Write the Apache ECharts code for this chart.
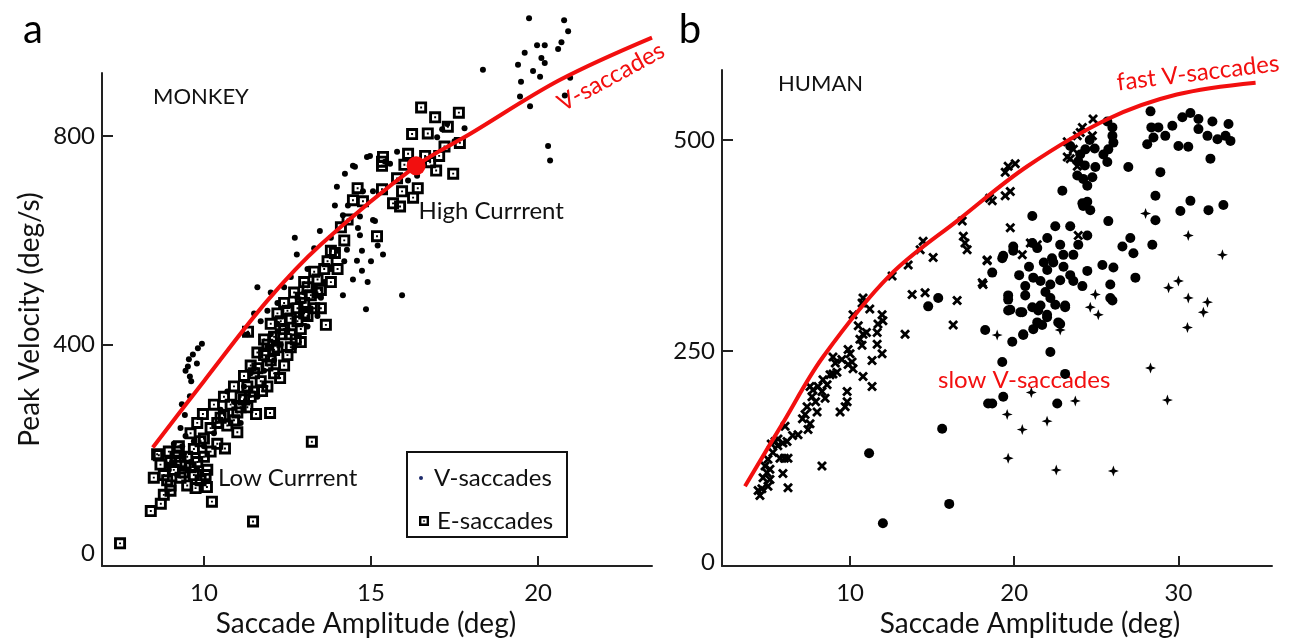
<!DOCTYPE html>
<html>
<head>
<meta charset="utf-8">
<script src="https://cdn.jsdelivr.net/npm/echarts@6/dist/echarts.min.js"></script>
<style>
  html, body { margin: 0; padding: 0; background: #fff; }
  #chart { width: 1294px; height: 643px; }
</style>
</head>
<body>
<div id="chart"></div>
<script>
// ---------- Panel a: MONKEY ----------
// Saccade amplitude (deg), peak velocity (deg/s)
const monkeyV = [
  [9.34,286],[9.58,301],[9.43,265],[9.52,358],[9.79,364],[9.58,339],[9.67,381],[9.82,393],[9.94,402],
  [9.45,350],[9.55,372],[9.62,330],[9.3,240],[9.45,225],[9.1,210],[9.05,175],[8.95,160],
  [8.9,170],[9.2,150],[9.4,190],[9.6,175],[9.8,160],[10.0,205],[9.7,215],[9.35,205],
  [10.3,230],[10.5,275],[10.7,310],[10.9,290],[11.1,250],[11.2,320],[11.4,345],[11.6,300],[11.8,350],
  [11.9,395],[12.0,420],[12.1,370],[12.2,440],[12.3,400],[12.4,455],[12.5,430],[12.6,475],[12.7,395],
  [12.8,490],[12.9,460],[13.0,500],[13.1,435],[13.2,470],[13.3,510],[13.4,455],[13.5,490],[12.2,480],
  [11.9,465],[12.0,500],[11.7,445],[12.4,510],[12.6,530],[13.1,545],[13.6,520],[13.8,545],[11.3,420],
  [11.5,460],[11.6,510],[12.72,605],[13.47,618],[12.78,573],[13.3,585],[13.8,605],[14.0,580],[14.2,560],
  [14.85,468],[15.93,495],[14.16,495],[14.46,525],[14.73,542],[14.58,561],[15.36,573],[14.67,610],
  [15.12,637],[14.16,648],[13.92,667],[13.98,703],[14.46,743],[14.88,760],[15.42,751],[15.57,747],
  [14.52,741],[14.22,728],[14.76,694],[15.06,694],[14.31,667],[15.06,639],[14.67,646],[14.73,580],
  [14.28,582],[14.61,624],[16.11,715],[16.38,724],[15.78,770],[14.97,762],[17.13,813],[17.28,823],
  [16.98,798],[15.2,590],[15.0,560],[14.9,520],[17.5,790],[17.8,815],
  [19.73,1026],[20.78,1022],[20.9,1001],[19.97,974],[20.2,974],[20.6,967],[20.1,950],[20.2,940],
  [19.4,937],[18.35,927],[19.85,925],[20.06,914],[20.96,912],[19.49,904],[19.46,876],[19.76,857],
  [20.8,878],[20.3,781],[20.36,753],[20.7,980],[19.6,960]
];
const monkeyE = [
  [8.6,190],[8.7,170],[8.8,150],[8.9,140],[9.0,175],[9.0,130],[9.1,160],[9.2,195],[9.3,145],[9.3,175],
  [9.4,155],[9.5,185],[9.5,130],[9.6,165],[9.7,200],[9.7,150],[9.8,175],[9.9,215],[9.9,140],[10.0,185],
  [10.1,160],[10.2,195],[8.41,81],[8.71,95],[10.24,99],[11.47,61],[7.49,19],[10.09,127],[9.0,120],
  [8.8,112],[8.65,188],[8.5,145],[9.15,185],[9.45,168],[9.75,125],[10.05,150],[8.95,195],[9.25,205],
  [9.6,230],[9.8,250],[9.97,267],[10.0,220],[10.2,240],[10.3,285],[10.4,210],[10.5,260],[10.6,300],
  [10.63,201],[10.7,245],[10.8,285],[10.9,320],[11.0,270],[11.0,232],[11.1,300],[11.2,340],[11.3,280],
  [11.32,425],[11.4,360],[11.5,310],[11.56,267],[11.6,385],[11.7,330],[11.74,311],[11.8,410],[11.9,360],
  [11.98,269],[12.0,440],[12.1,390],[12.2,460],[12.28,336],[12.3,420],[12.4,480],[12.5,380],[12.6,450],
  [12.75,410],[12.7,500],[12.8,470],[12.9,430],[13.0,520],[13.0,480],[13.1,455],[13.23,214],[13.3,540],
  [13.4,500],[13.5,470],[13.65,438],[13.7,560],[13.8,520],[13.92,576],[14.0,545],[14.2,600],[14.46,677],
  [14.76,675],[15.18,608],[15.33,698],[15.33,751],[15.66,671],[15.78,719],[15.87,665],[15.93,694],
  [16.11,766],[16.23,804],[16.26,682],[16.5,855],[16.62,762],[16.77,750],[16.92,836],[16.95,734],
  [17.04,762],[17.46,728],[17.63,845],[17.66,787],[15.36,760],[15.33,743],[16.4,700],[17.2,780],
  [10.4,250],[10.6,265],[10.9,255],[11.1,280],[11.2,295],[11.3,320],[11.4,300],[11.5,345],[11.6,355],
  [11.8,380],[11.9,400],[12.0,370],[12.1,415],[12.2,395],[12.3,445],[12.4,430],[12.5,465],[12.6,420],
  [12.8,445],[12.9,490],[13.0,460],[13.2,495],[13.3,470],[13.4,525],[13.5,505],[13.6,545],[12.1,345],
  [12.4,360],[11.9,320],[12.6,395],[12.9,405],[13.1,510],[13.8,580],[14.1,625],[14.3,640],[14.6,700],
  [16.0,745],[16.7,805],[17.3,818]
];
// fitted main-sequence curve for V-saccades
const monkeyFitX = [8.47, 10.0, 11.88, 13.5, 16.35, 17.96, 20.66, 23.41];
const monkeyFitY = [203, 330, 483, 592, 743, 804, 908, 989];
const highCurrent = [16.35, 743];

// ---------- Panel b: HUMAN ----------
const humanCross = [
  [4.51,79],[4.63,87],[5.0,90],[5.12,98],[4.94,106],[4.82,114],[5.0,122],[5.12,110],[6.22,88],[5.91,105],
  [5.73,123],[6.22,123],[6.0,123],[5.43,143],[5.61,146],[5.91,141],[6.16,143],[6.04,161],[8.29,114],
  [6.83,151],[7.44,157],[7.56,164],[7.26,175],[7.38,184],[7.68,196],[7.74,204],[8.05,208],[7.56,208],
  [8.29,202],[7.99,178],[8.48,194],[8.35,216],[8.78,222],[8.96,223],[9.2,225],[8.96,243],[9.39,178],
  [9.7,184],[9.82,190],[9.82,202],[9.88,252],[10.0,247],[10.12,237],[10.18,229],[9.88,234],[11.34,208],
  [10.79,220],[11.34,239],[10.73,257],[10.6,264],[11.65,258],[11.95,247],[11.65,272],[11.0,272],
  [10.79,270],[13.35,270],[16.83,404],[16.9,386],[17.0,378],[17.13,370],[14.45,380],[14.27,370],
  [15.06,361],[13.54,352],[12.56,339],[10.79,313],[10.73,307],[10.18,293],[11.95,293],[12.0,286],
  [11.7,282],[13.78,317],[14.57,319],[16.28,281],[16.52,310],[18.1,329],[18.35,357],[18.5,431],
  [24.8,525],[24.15,515],[24.76,505],[23.84,505],[23.23,480],[19.63,469],[20.06,472],[19.45,462],
  [19.76,439],[19.45,434],[18.66,428],[19.76,396],[18.35,358],[18.05,331],[20.49,364],[20.98,378],
  [21.4,376],[23.9,387],[23.23,498],[23.6,489],[23.84,469],[23.41,478],[24.02,509],[5.3,130],[5.2,140],
  [4.7,100],[6.5,150],[7.1,170],[7.9,190],[8.6,210],[9.5,240],[11.2,300],[10.5,280],[4.4,85],[5.6,138],
  [9.1,236]
];
const humanDot = [
  [28.3,534],[28.35,515],[28.78,515],[28.48,503],[29.2,505],[28.1,495],[29.63,517],[30.24,527],[30.73,532],
  [31.22,525],[32.07,522],[33.05,519],[31.22,513],[31.77,505],[32.38,501],[32.87,505],[33.17,499],[30.0,493],
  [30.6,492],[31.95,478],[26.95,468],[28.9,462],[28.6,434],[30.73,428],[30.12,416],[31.83,417],[32.74,423],
  [28.6,405],[28.41,376],[27.07,384],[26.59,374],[27.26,366],[27.38,337],[25.73,404],[22.93,440],[24.15,425],
  [24.63,417],[21.1,410],[22.5,398],[23.41,398],[24.45,387],[19.94,374],[19.33,363],[21.4,372],[22.01,384],
  [22.8,376],[23.9,376],[22.99,364],[23.6,364],[25.37,352],[26.04,349],[24.45,345],[23.41,340],[22.38,355],
  [22.01,346],[21.16,337],[21.6,333],[22.2,329],[22.8,334],[23.6,333],[24.15,327],[25.85,329],[25.85,313],
  [20.67,327],[20.67,316],[19.63,316],[19.76,299],[20.37,296],[21.1,302],[21.6,304],[22.2,313],[23.1,304],
  [21.4,284],[22.0,290],[18.23,275],[20.55,270],[22.8,282],[19.27,360],[18.66,343],[19.94,369],[21.1,378],
  [19.63,311],[19.63,298],[20.49,296],[21.46,298],[22.0,293],[23.1,302],[22.68,284],[21.7,281],[21.16,276],
  [20.55,269],[19.88,261],[25.98,310],[22.2,249],[19.27,237],[23.1,223],[19.33,196],[18.66,188],[22.62,188],
  [15.61,158],[11.16,129],[12.0,46],[16.04,69],[18.41,188],[15.37,313],[14.76,303],[25.67,522],[25.98,515],
  [25.98,505],[26.04,497],[25.73,489],[25.43,483],[24.94,468],[24.76,456],[24.45,446],[24.2,454],[23.84,458],
  [24.02,483],[24.33,489],[23.41,493],[24.45,427],[24.2,422],[25.67,474],[24.6,500],[24.9,490],[23.9,475],
  [24.3,470],[22.3,360],[21.8,355],[20.9,350],[20.3,340],[23.0,350],[21.9,320],[22.5,305]
];
const humanPlus = [
  [28.0,413],[30.6,387],[32.68,364],[24.94,317],[24.63,302],[25.12,293],[29.4,325],[30.0,333],[30.6,313],
  [31.77,308],[31.52,296],[30.55,278],[22.8,275],[18.96,269],[28.3,230],[29.33,192],[23.72,191],[21.04,201],
  [19.57,175],[20.49,157],[22.0,167],[19.63,123],[22.56,109],[26.04,108]
];
const humanFitX = [3.6, 5.85, 8.35, 12.44, 16.7, 20.8, 25.7, 29.9, 34.7];
const humanFitY = [90, 163, 243, 340, 407, 469, 525, 554, 568];

// tick values
const ticksAX = [10, 15, 20];
const ticksAY = [0, 400, 800];
const ticksBX = [10, 20, 30];
const ticksBY = [0, 250, 500];

const zip = (xs, ys) => xs.map((x, i) => [x, ys[i]]);

const FONT = 'Lato';
const INK = '#111';
const RED = '#f20f0f';

// marker shapes: framed square with centre dot, bold x, four-point cross
const SQUARE = 'path://M0,0L10,0L10,10L0,10Z M2.4,2.4L2.4,7.6L7.6,7.6L7.6,2.4Z M4.2,4.2L5.8,4.2L5.8,5.8L4.2,5.8Z';
const CROSS = 'path://M2,0L5,3L8,0L10,2L7,5L10,8L8,10L5,7L2,10L0,8L3,5L0,2Z';
const PLUS = 'path://M5,0L6.3,3.7L10,5L6.3,6.3L5,10L3.7,6.3L0,5L3.7,3.7Z';

const tickLine = { color: '#222', width: 2 };
const labelBase = { color: INK, fontFamily: FONT, fontSize: 24 };

function axisStyle(extra) {
  return Object.assign({
    type: 'value',
    splitLine: { show: false },
    axisLine: { show: true, onZero: false, lineStyle: { color: '#222', width: 2 } },
    nameTextStyle: { color: INK, fontFamily: FONT, fontSize: 28 }
  }, extra);
}

const chart = echarts.init(document.getElementById('chart'), null, { renderer: 'canvas' });

chart.setOption({
  backgroundColor: '#fff',
  animation: false,
  grid: [
    { left: 102, top: 73, right: 642, bottom: 71 },
    { left: 722, top: 70, right: 22, bottom: 72 }
  ],
  xAxis: [
    axisStyle({
      gridIndex: 0, min: 6.95, max: 23.41,
      axisLabel: Object.assign({ margin: 15, customValues: ticksAX }, labelBase),
      axisTick: { show: true, inside: true, length: 10, lineStyle: tickLine, customValues: ticksAX },
      name: 'Saccade Amplitude (deg)', nameLocation: 'middle', nameGap: 40,
      nameTextStyle: { color: INK, fontFamily: FONT, fontSize: 28, padding: [0, 22, 0, 0] }
    }),
    axisStyle({
      gridIndex: 1, min: 2.2, max: 35.7,
      axisLabel: Object.assign({ margin: 15, customValues: ticksBX }, labelBase),
      axisTick: { show: true, inside: true, length: 10, lineStyle: tickLine, customValues: ticksBX },
      name: 'Saccade Amplitude (deg)', nameLocation: 'middle', nameGap: 40,
      nameTextStyle: { color: INK, fontFamily: FONT, fontSize: 28, padding: [0, 0, 0, 66] }
    })
  ],
  yAxis: [
    axisStyle({
      gridIndex: 0, min: -24.6, max: 921,
      axisLabel: Object.assign({ margin: 7, customValues: ticksAY }, labelBase),
      axisTick: { show: true, inside: true, length: 11, lineStyle: tickLine, customValues: [400, 800] },
      name: 'Peak Velocity (deg/s)', nameLocation: 'middle', nameGap: 58, nameRotate: 90
    }),
    axisStyle({
      gridIndex: 1, min: -4.7, max: 583,
      axisLabel: Object.assign({ margin: 7, customValues: ticksBY }, labelBase),
      axisTick: { show: true, inside: true, length: 11, lineStyle: tickLine, customValues: [250, 500] }
    })
  ],
  legend: [
    {
      data: [{ name: 'V-saccades', icon: 'circle', itemStyle: { color: '#1d2a6b', opacity: 1 } }],
      left: 414, top: 461, itemWidth: 16, itemHeight: 4, selectedMode: false,
      textStyle: { color: INK, fontFamily: FONT, fontSize: 24 }
    },
    {
      data: [{ name: 'E-saccades', icon: SQUARE, itemStyle: { color: '#000', opacity: 1 } }],
      left: 414, top: 504, itemWidth: 16, itemHeight: 10, selectedMode: false,
      textStyle: { color: INK, fontFamily: FONT, fontSize: 24 }
    }
  ],
  graphic: [
    { type: 'rect', shape: { x: 407, y: 452, width: 160, height: 85 },
      style: { fill: 'none', stroke: '#111', lineWidth: 2 }, z: 10 },
    { type: 'text', x: 33, y: 30, style: { text: 'a', fontFamily: FONT, fontSize: 40, fill: '#000', align: 'center', verticalAlign: 'middle' } },
    { type: 'text', x: 690, y: 30, style: { text: 'b', fontFamily: FONT, fontSize: 40, fill: '#000', align: 'center', verticalAlign: 'middle' } },
    { type: 'text', x: 153, y: 97, style: { text: 'MONKEY', fontFamily: FONT, fontSize: 22, fill: INK, align: 'left', verticalAlign: 'middle' } },
    { type: 'text', x: 778, y: 84, style: { text: 'HUMAN', fontFamily: FONT, fontSize: 22, fill: INK, align: 'left', verticalAlign: 'middle' } },
    { type: 'text', x: 218, y: 478, style: { text: 'Low Currrent', fontFamily: FONT, fontSize: 24, fill: INK, align: 'left', verticalAlign: 'middle' } },
    { type: 'text', x: 611, y: 77, rotation: 0.5, style: { text: 'V-saccades', fontFamily: FONT, fontSize: 24, fill: RED, align: 'center', verticalAlign: 'middle' } },
    { type: 'text', x: 1198, y: 73, rotation: 0.12, style: { text: 'fast V-saccades', fontFamily: FONT, fontSize: 24, fill: RED, align: 'center', verticalAlign: 'middle' } },
    { type: 'text', x: 938, y: 380, style: { text: 'slow V-saccades', fontFamily: FONT, fontSize: 24, fill: RED, align: 'left', verticalAlign: 'middle' } }
  ],
  series: [
    {
      name: 'V-saccades', type: 'scatter', xAxisIndex: 0, yAxisIndex: 0, clip: false,
      data: monkeyV, symbol: 'circle', symbolSize: 6, itemStyle: { color: '#000', opacity: 1 }, z: 2
    },
    {
      name: 'E-saccades', type: 'scatter', xAxisIndex: 0, yAxisIndex: 0, clip: false,
      data: monkeyE, symbol: SQUARE, symbolSize: 12, symbolKeepAspect: true,
      itemStyle: { color: '#000', opacity: 1 }, z: 2
    },
    {
      name: 'monkey-fit', type: 'line', xAxisIndex: 0, yAxisIndex: 0, clip: false,
      data: zip(monkeyFitX, monkeyFitY), smooth: 0.35, showSymbol: false,
      lineStyle: { color: RED, width: 4 }, z: 4
    },
    {
      name: 'high-current', type: 'scatter', xAxisIndex: 0, yAxisIndex: 0, clip: false,
      data: [highCurrent], symbol: 'circle', symbolSize: 19, itemStyle: { color: RED, opacity: 1 }, z: 5,
      label: {
        show: true, formatter: 'High Currrent', position: [12, 55], align: 'left', verticalAlign: 'middle',
        color: INK, fontFamily: FONT, fontSize: 24
      }
    },
    {
      name: 'human-cross', type: 'scatter', xAxisIndex: 1, yAxisIndex: 1,
      data: humanCross, symbol: CROSS, symbolSize: 10, itemStyle: { color: '#000', opacity: 1 }, z: 2
    },
    {
      name: 'human-dot', type: 'scatter', xAxisIndex: 1, yAxisIndex: 1,
      data: humanDot, symbol: 'circle', symbolSize: 10, itemStyle: { color: '#000', opacity: 1 }, z: 2
    },
    {
      name: 'human-plus', type: 'scatter', xAxisIndex: 1, yAxisIndex: 1,
      data: humanPlus, symbol: PLUS, symbolSize: 11, itemStyle: { color: '#000', opacity: 1 }, z: 2
    },
    {
      name: 'human-fit', type: 'line', xAxisIndex: 1, yAxisIndex: 1, clip: false,
      data: zip(humanFitX, humanFitY), smooth: 0.35, showSymbol: false,
      lineStyle: { color: RED, width: 4 }, z: 4
    }
  ]
});
</script>
</body>
</html>
